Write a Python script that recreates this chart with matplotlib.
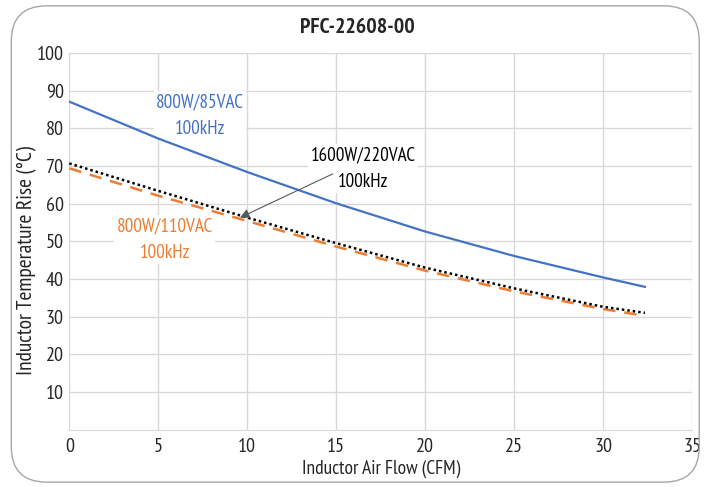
import numpy as np
import matplotlib.pyplot as plt
from matplotlib.patches import FancyBboxPatch

# air flow (CFM) and temperature rise (C)
flow = [0, 5, 10, 15, 20, 25, 30, 32.35]
rise_85vac = [87.1, 77.3, 68.4, 60.1, 52.6, 46.1, 40.4, 37.9]
rise_220vac = [70.7, 63.4, 56.3, 49.5, 43.0, 37.5, 32.6, 31.0]
rise_110vac = [69.4, 62.1, 55.4, 48.6, 42.2, 36.7, 32.0, 30.2]

x_ticks = [0, 5, 10, 15, 20, 25, 30, 35]
y_ticks = [10, 20, 30, 40, 50, 60, 70, 80, 90, 100]

plt.rcParams['font.family'] = ['PT Sans Narrow', 'Liberation Sans', 'DejaVu Sans']

blue = '#4472C4'
orange = '#ED7D31'
grid = '#d9d9d9'
text_col = '#262626'

fig = plt.figure(figsize=(7.07, 4.87), dpi=100)
ax = fig.add_axes([0.098, 0.118, 0.881, 0.773])

# rounded frame around the whole chart
frame = FancyBboxPatch((0.016, 0.01), 0.973, 0.978, boxstyle='round,pad=0,rounding_size=0.05',
                       transform=fig.transFigure, facecolor='none', edgecolor='#a6a6a6',
                       linewidth=1.0, mutation_aspect=707 / 487)
fig.patches.append(frame)

ax.plot(flow, rise_85vac, color=blue, linewidth=1.6, zorder=6)
ax.plot(flow, rise_110vac, color=orange, linewidth=1.8, linestyle=(0, (5, 3.5)), zorder=6)
ax.plot(flow, rise_220vac, color='black', linewidth=1.8, linestyle=(0, (1, 1.2)), zorder=7)

ax.set_xlim(0, 35)
ax.set_ylim(0, 100)
ax.set_xticks(x_ticks)
ax.set_yticks(y_ticks)
ax.tick_params(length=0, labelsize=14.5, colors=text_col)
ax.tick_params(axis='x', pad=6)
ax.tick_params(axis='y', pad=4)
ax.grid(True, color=grid, linewidth=1.0)
ax.set_axisbelow(True)
for side in ['top', 'right']:
    ax.spines[side].set_visible(False)
for side in ['left', 'bottom']:
    ax.spines[side].set_color(grid)

ax.set_xlabel('Inductor Air Flow (CFM)', fontsize=14, color=text_col, labelpad=3)
ax.set_ylabel('Inductor Temperature Rise (°C)', fontsize=15.5, color=text_col)
ax.yaxis.set_label_coords(-0.052, 0.45)
fig.text(0.506, 0.943, 'PFC-22608-00', fontsize=15.75, fontweight='bold', color=text_col,
         ha='center', va='center')

box = dict(facecolor='white', edgecolor='none', pad=1.5)
ax.text(7.35, 83.4, '800W/85VAC\n100kHz', color=blue, fontsize=13.75, ha='center', va='center',
        linespacing=1.65, bbox=box, zorder=5)
ax.text(5.36, 50.4, '800W/110VAC\n100kHz', color=orange, fontsize=13.75, ha='center', va='center',
        linespacing=1.65, bbox=box, zorder=5)
ax.text(16.5, 69.3, '1600W/220VAC\n100kHz', color='black', fontsize=13.75, ha='center', va='center',
        linespacing=1.65, bbox=box, zorder=5)
ax.annotate('', xy=(9.59, 56.3), xytext=(14.8, 67.9),
            arrowprops=dict(arrowstyle='-|>', color='#595959', linewidth=0.8,
                            mutation_scale=14, shrinkA=0, shrinkB=0), zorder=8)

fig.savefig('out.png', dpi=100)
